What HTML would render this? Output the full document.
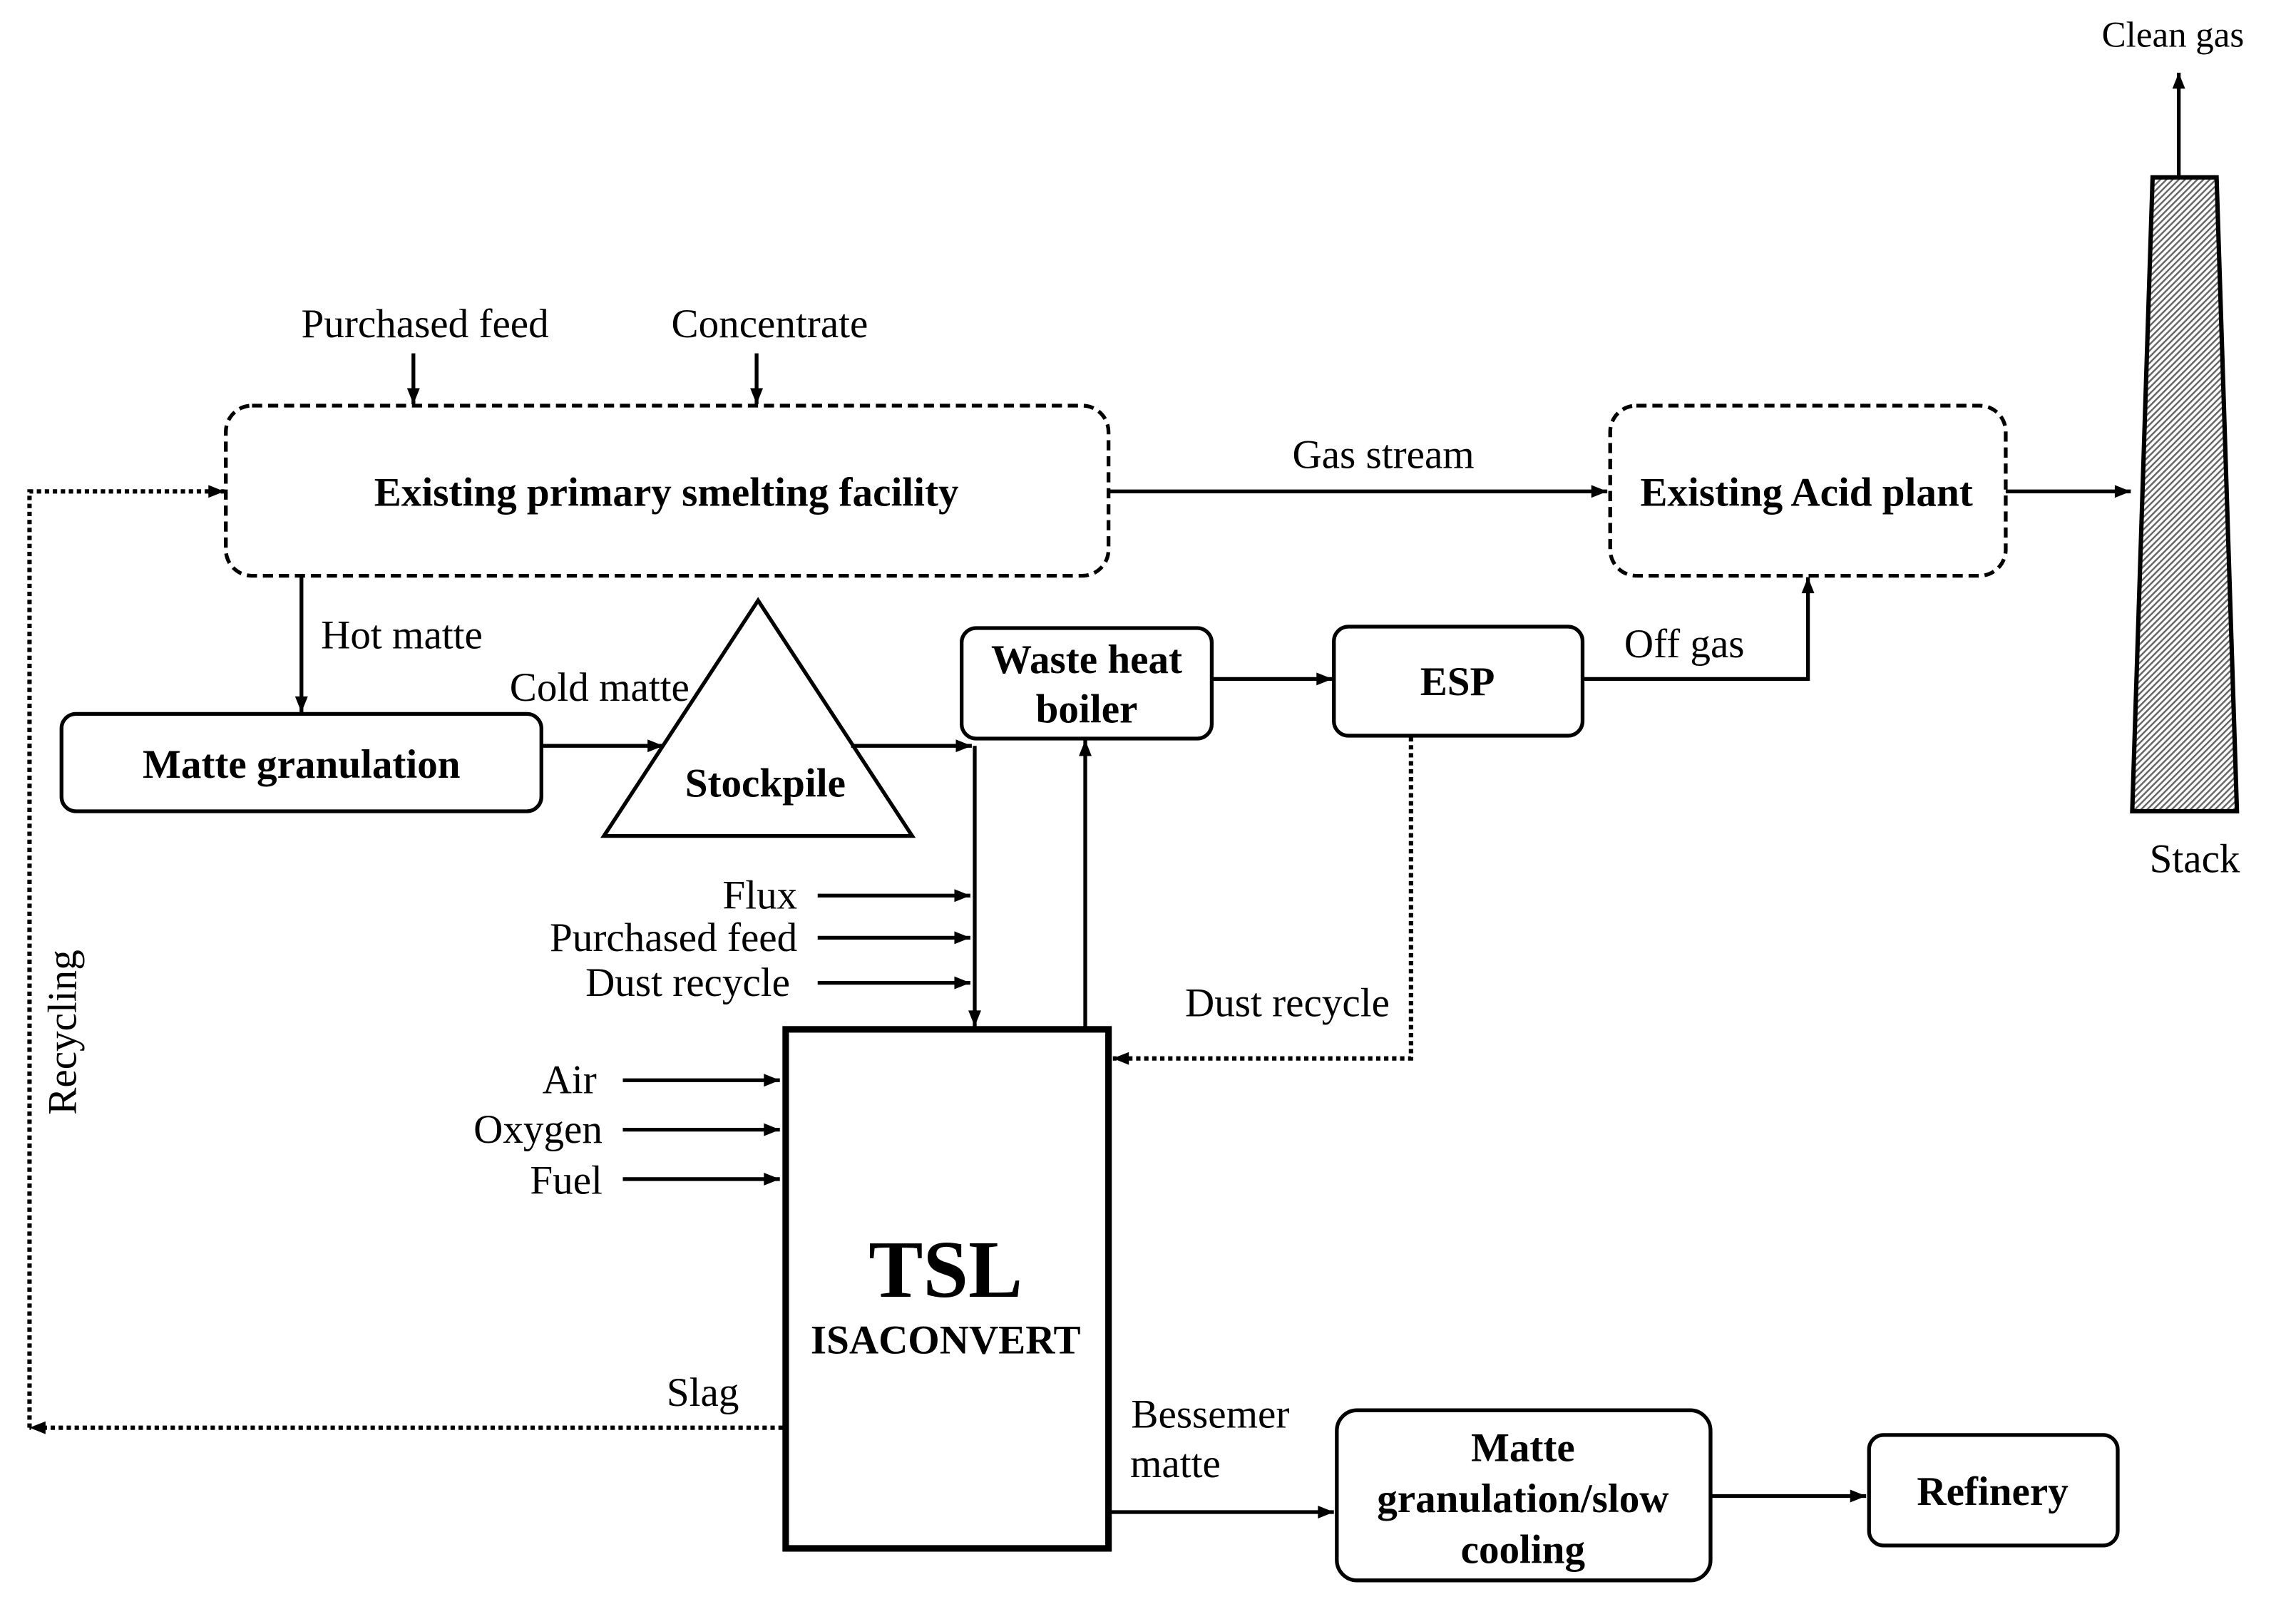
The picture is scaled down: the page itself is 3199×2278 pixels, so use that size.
<!DOCTYPE html>
<html><head><meta charset="utf-8"><style>
html,body{margin:0;padding:0;background:#fff;}
svg{display:block;}
text{font-family:"Liberation Serif",serif;fill:#000;}
</style></head><body>
<svg width="3199" height="2278" viewBox="0 0 1568 1117" xmlns="http://www.w3.org/2000/svg">
<defs>
<marker id="a" viewBox="0 0 10 10" refX="10" refY="5" markerWidth="12" markerHeight="11" markerUnits="userSpaceOnUse" orient="auto"><path d="M0,1 L10,5 L0,9 z" fill="#000"/></marker>
<pattern id="h" width="3" height="3" patternUnits="userSpaceOnUse" patternTransform="rotate(45)"><rect width="3" height="3" fill="#fff"/><rect width="1.2" height="3" fill="#666"/></pattern>
</defs>
<g fill="none" stroke="#000" stroke-width="2.6">
<rect x="155" y="279" width="607" height="117" rx="18" stroke-dasharray="7,4"/>
<rect x="1107" y="279" width="272" height="117" rx="18" stroke-dasharray="7,4"/>
<rect x="42" y="491" width="330" height="67" rx="10"/>
<rect x="661" y="432" width="172" height="76" rx="10"/>
<rect x="917" y="431" width="171" height="75" rx="10"/>
<rect x="919" y="970" width="257" height="117" rx="14"/>
<rect x="1285" y="987" width="171" height="76" rx="10"/>
<polygon points="521,413 415,575 627,575"/>
<rect x="540" y="708" width="222" height="357" stroke-width="4.5"/>
<polygon points="1480,122 1524,122 1538,558 1466,558" fill="url(#h)" stroke-width="3"/>
<line x1="284" y1="243" x2="284" y2="278" marker-end="url(#a)"/>
<line x1="520" y1="243" x2="520" y2="278" marker-end="url(#a)"/>
<line x1="762" y1="338" x2="1105" y2="338" marker-end="url(#a)"/>
<line x1="1379" y1="338" x2="1465" y2="338" marker-end="url(#a)"/>
<line x1="1498" y1="122" x2="1498" y2="50" marker-end="url(#a)"/>
<line x1="207" y1="396" x2="207" y2="490" marker-end="url(#a)"/>
<line x1="372" y1="513" x2="456" y2="513" marker-end="url(#a)"/>
<line x1="585" y1="513" x2="668" y2="513" marker-end="url(#a)"/>
<line x1="670" y1="513" x2="670" y2="706" marker-end="url(#a)"/>
<line x1="746" y1="706" x2="746" y2="509" marker-end="url(#a)"/>
<line x1="833" y1="467" x2="916" y2="467" marker-end="url(#a)"/>
<polyline points="1088,467 1243,467 1243,397" marker-end="url(#a)"/>
<line x1="562" y1="616" x2="667" y2="616" marker-end="url(#a)"/>
<line x1="562" y1="645" x2="667" y2="645" marker-end="url(#a)"/>
<line x1="562" y1="676" x2="667" y2="676" marker-end="url(#a)"/>
<line x1="428" y1="743" x2="536" y2="743" marker-end="url(#a)"/>
<line x1="428" y1="777" x2="536" y2="777" marker-end="url(#a)"/>
<line x1="428" y1="811" x2="536" y2="811" marker-end="url(#a)"/>
<line x1="762" y1="1040" x2="917" y2="1040" marker-end="url(#a)"/>
<line x1="1176" y1="1029" x2="1283" y2="1029" marker-end="url(#a)"/>
<polyline points="970,507 970,728 765,728" stroke-dasharray="3,2.5" stroke-width="3" marker-end="url(#a)"/>
<line x1="538" y1="982" x2="20" y2="982" stroke-dasharray="3,2.5" stroke-width="3" marker-end="url(#a)"/>
<polyline points="20,982 20,338 154,338" stroke-dasharray="3,2.5" stroke-width="3" marker-end="url(#a)"/>
</g>
<g font-size="28" text-anchor="middle">
<text x="292" y="232">Purchased feed</text>
<text x="529" y="232">Concentrate</text>
<text x="951" y="322">Gas stream</text>
<text x="1494" y="32" font-size="25">Clean gas</text>
<text x="1509" y="600">Stack</text>
<text x="276" y="446">Hot matte</text>
<text x="412" y="482">Cold matte</text>
<text x="1158" y="452">Off gas</text>
<text x="885" y="699">Dust recycle</text>
<text x="483" y="967">Slag</text>
<text x="832" y="982">Bessemer</text>
<text x="808" y="1016">matte</text>
<text x="548" y="625" text-anchor="end">Flux</text>
<text x="548" y="654" text-anchor="end">Purchased feed</text>
<text x="543" y="685" text-anchor="end">Dust recycle</text>
<text x="410" y="752" text-anchor="end">Air</text>
<text x="414" y="786" text-anchor="end">Oxygen</text>
<text x="414" y="821" text-anchor="end">Fuel</text>
<text transform="translate(52,710) rotate(-90)">Recycling</text>
</g>
<g font-size="28" text-anchor="middle" font-weight="bold">
<text x="458" y="348">Existing primary smelting facility</text>
<text x="1242" y="348">Existing Acid plant</text>
<text x="207" y="535">Matte granulation</text>
<text x="526" y="548">Stockpile</text>
<text x="747" y="463">Waste heat</text>
<text x="747" y="497">boiler</text>
<text x="1002" y="478">ESP</text>
<text x="1047" y="1005">Matte</text>
<text x="1047" y="1040">granulation/slow</text>
<text x="1047" y="1075">cooling</text>
<text x="1370" y="1035">Refinery</text>
<text x="650" y="892" font-size="56">TSL</text>
<text x="650" y="931">ISACONVERT</text>
</g>
</svg>
</body></html>
